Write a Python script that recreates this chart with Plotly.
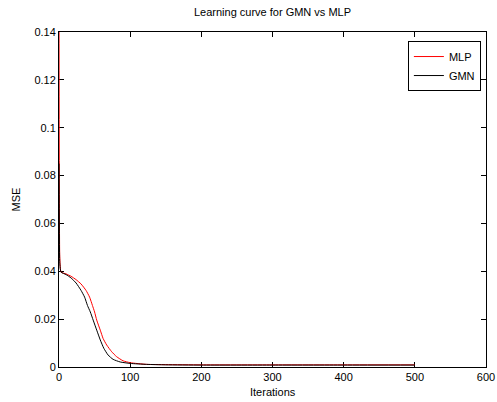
import plotly.graph_objects as go

mlp_iter = [0, 1, 2, 3, 10, 17, 24, 31, 38, 43, 47, 50, 53, 58, 62, 67, 74, 81, 90, 100, 123, 150, 200, 300, 400, 500]
mlp_mse = [0.16, 0.047, 0.041, 0.0396, 0.0389, 0.0379, 0.0365, 0.0347, 0.0320, 0.0292, 0.0257, 0.0230, 0.0196, 0.0154, 0.0119, 0.0092, 0.0064, 0.0043, 0.0026, 0.0018, 0.0011, 0.0010, 0.0009, 0.0009, 0.0009, 0.0009]

gmn_iter = [0, 1, 2, 3, 10, 17, 24, 31, 36, 40, 44, 48, 53, 58, 63, 69, 76, 86, 100, 123, 150, 200, 300, 400, 500]
gmn_mse = [0.085, 0.044, 0.0405, 0.0396, 0.0386, 0.0372, 0.0351, 0.0320, 0.0292, 0.0257, 0.0230, 0.0196, 0.0154, 0.0113, 0.0078, 0.0050, 0.0032, 0.0021, 0.0015, 0.0011, 0.0009, 0.0008, 0.0008, 0.0008, 0.0008]

x_ticks = [0, 100, 200, 300, 400, 500, 600]
y_ticks = [0, 0.02, 0.04, 0.06, 0.08, 0.1, 0.12, 0.14]
y_labels = ["0", "0.02", "0.04", "0.06", "0.08", "0.1", "0.12", "0.14"]

font = "Liberation Sans, Arial, sans-serif"
tfont = dict(family=font, size=11, color="black")

fig = go.Figure()
fig.add_trace(go.Scatter(x=mlp_iter, y=mlp_mse, mode="lines", name="MLP",
                         line=dict(color="#FF0000", width=1, shape="spline", smoothing=0.5)))
fig.add_trace(go.Scatter(x=gmn_iter, y=gmn_mse, mode="lines", name="GMN",
                         line=dict(color="#000000", width=1, shape="spline", smoothing=0.5)))

axis_common = dict(showline=True, linecolor="black", linewidth=1, mirror="ticks",
                   ticks="inside", ticklen=5, tickcolor="black", showgrid=False,
                   zeroline=False, tickfont=tfont, automargin=False,
                   layer="below traces")

fig.update_layout(
    width=497, height=402,
    margin=dict(l=59, r=11, t=32, b=35, autoexpand=False),
    paper_bgcolor="white", plot_bgcolor="white",
    title=dict(text="Learning curve for GMN vs MLP", x=0.5, xref="paper", xanchor="center",
               y=1 - 12 / 402, yanchor="middle", font=tfont),
    xaxis=dict(range=[0, 600], tickvals=x_ticks, **axis_common),
    yaxis=dict(range=[0, 0.14], tickvals=y_ticks, ticktext=y_labels, **axis_common),
    legend=dict(x=0.988, y=0.973, xanchor="right", yanchor="top",
                bgcolor="white", bordercolor="black", borderwidth=1,
                font=tfont, tracegroupgap=0, itemwidth=30, entrywidth=45),
    showlegend=True,
    annotations=[
        dict(text="Iterations", x=0.5, y=0, xref="paper", yref="paper",
             xanchor="center", yanchor="middle", yshift=-25, showarrow=False, font=tfont),
        dict(text="MSE", x=0, y=0.5, xref="paper", yref="paper", textangle=-90,
             xanchor="center", yanchor="middle", xshift=-44, showarrow=False, font=tfont),
    ],
)

fig.write_html("out.html")
